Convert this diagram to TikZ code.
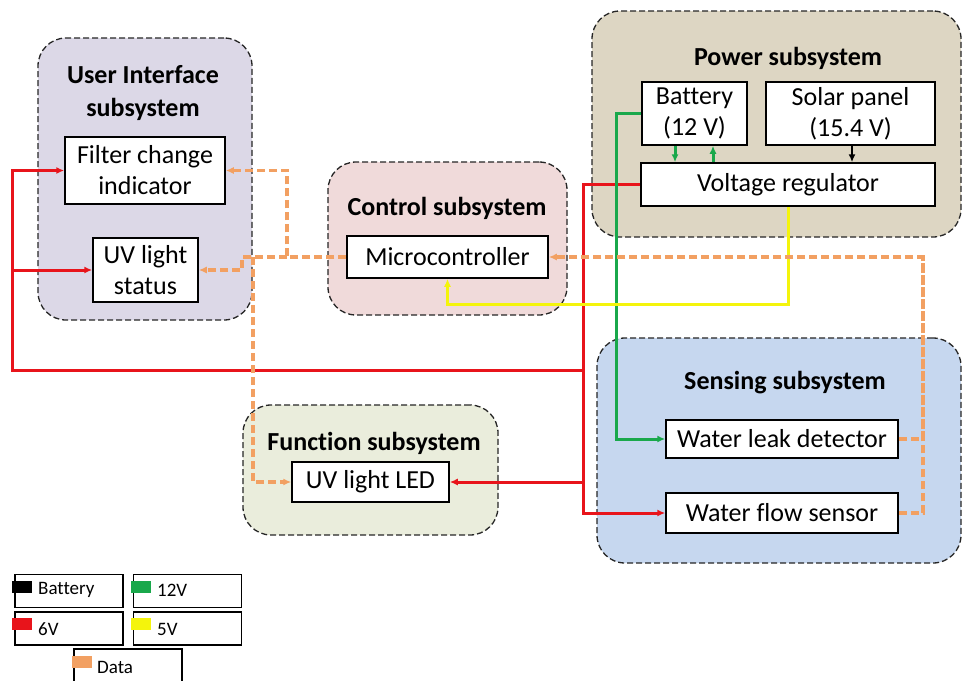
\documentclass[tikz,border=0pt]{standalone}
\usepackage{fontspec}
\setmainfont{Carlito}[RawFeature={-liga;-clig;-calt}]
\usetikzlibrary{arrows.meta}

\definecolor{uifill}{HTML}{DCD8E7}
\definecolor{ctrlfill}{HTML}{F0DADA}
\definecolor{pwrfill}{HTML}{DDD6C3}
\definecolor{sensfill}{HTML}{C6D7EF}
\definecolor{funcfill}{HTML}{EAEDDC}
\definecolor{wire6}{HTML}{E8141B}
\definecolor{wire12}{HTML}{19A84B}
\definecolor{wire5}{HTML}{F4F40C}
\definecolor{wiredata}{HTML}{F2A062}

\begin{document}
\begin{tikzpicture}[x=1pt,y=-1pt,
  group/.style={draw=black!85, line width=1.3pt, dash pattern=on 6pt off 3pt,
    rounded corners=28pt, inner sep=0pt},
  block/.style={draw=black, line width=1.5pt, fill=white, inner sep=0pt,
    align=center, font=\fontsize{26}{31}\selectfont},
  title/.style={align=center, font=\bfseries\fontsize{26}{33}\selectfont},
  tip/.style={-{Latex[length=8pt,width=7pt]}},
  v6/.style={draw=wire6, line width=3pt},
  v12/.style={draw=wire12, line width=3pt},
  v5/.style={draw=wire5, line width=3pt},
  vbat/.style={draw=black, line width=1.6pt},
  data/.style={draw=wiredata, line width=3.2pt, dash pattern=on 8pt off 4pt},
  legbox/.style={draw=black, line width=1.3pt, minimum width=108pt, minimum height=33pt, inner sep=0pt},
  legtext/.style={anchor=west, inner sep=0pt, font=\fontsize{19}{21}\selectfont},
  swatch/.style={minimum width=20pt, minimum height=12pt, inner sep=0pt}
]
\useasboundingbox (0,0) rectangle (963,680);

% subsystem groups
\node[group, fill=uifill,   minimum width=214pt, minimum height=282pt] (ui)   at (145,179) {};
\node[group, fill=ctrlfill, minimum width=239pt, minimum height=153pt] (ctrl) at (447.5,238.5) {};
\node[group, fill=pwrfill,  minimum width=369pt, minimum height=226pt] (pwr)  at (776.5,124) {};
\node[group, fill=sensfill, minimum width=364pt, minimum height=225pt] (sens) at (779,450.5) {};
\node[group, fill=funcfill, minimum width=255pt, minimum height=130pt] (func) at (370.5,470) {};

% group titles
\node[title] (uititle)   at (143,93) {User Interface\\subsystem};
\node[title] (ctrltitle) at (447,208) {Control subsystem};
\node[title] (pwrtitle)  at (788,58) {Power subsystem};
\node[title] (senstitle) at (785,383) {Sensing subsystem};
\node[title] (functitle) at (374,443) {Function subsystem};

% components
\node[block, minimum width=160pt, minimum height=67pt] (filt)  at (145,170.5) {Filter change\\indicator};
\node[block, minimum width=105pt, minimum height=64pt] (uvs)   at (145.5,270) {UV light\\status};
\node[block, minimum width=201pt, minimum height=42pt] (mcu)   at (447.5,257) {Microcontroller};
\node[block, minimum width=105pt, minimum height=63pt] (batt)  at (694.5,113.5) {Battery\\(12 V)};
\node[block, minimum width=169pt, minimum height=63pt] (solar) at (850.5,113.5) {Solar panel\\(15.4 V)};
\node[block, minimum width=294pt, minimum height=43pt] (vreg)  at (788,184.5) {Voltage regulator};
\node[block, minimum width=232pt, minimum height=38pt] (leak)  at (782,439) {Water leak detector};
\node[block, minimum width=232pt, minimum height=40pt] (flow)  at (782,513) {Water flow sensor};
\node[block, minimum width=157pt, minimum height=40pt] (led)   at (370.5,482) {UV light LED};

% junction points
\coordinate (rtop)  at (583,184.5);
\coordinate (rmid)  at (583,370);
\coordinate (rleft) at (12,370);
\coordinate (gx)    at (616,113.5);
\coordinate (yc)    at (788,304);
\coordinate (dA)    at (287,257);
\coordinate (dB)    at (242,257);
\coordinate (dC)    at (253,257);
\coordinate (dR)    at (923,257);

% 6 V distribution
\draw[v6, tip] (vreg.west) -- (rtop) |- (flow.west);
\draw[v6, tip] (rmid) -- (rleft) |- (filt.west);
\draw[v6, tip] (rleft |- uvs.west) -- (uvs.west);
\draw[v6, tip] (rtop |- led.east) -- (led.east);

% 12 V
\draw[v12, tip] (batt.west) -- (gx) |- (leak.west);
\draw[v12, tip] ([xshift=-19.5pt]batt.south) -- ([xshift=-19.5pt]batt.south |- vreg.north);
\draw[v12, tip] ([xshift=18.5pt]batt.south |- vreg.north) -- ([xshift=18.5pt]batt.south);

% solar input
\draw[vbat, tip] ([xshift=1.5pt]solar.south) -- ([xshift=1.5pt]solar.south |- vreg.north);

% 5 V
\draw[v5, tip] (vreg.south) -- (yc) -| (mcu.south);

% data links
\draw[data, tip] (mcu.west) -- (dA) |- (filt.east);
\draw[data, tip] (dA) -- (dB) |- (uvs.east);
\draw[data, tip] (dC) |- (led.west);
\draw[data, tip] (leak.east) -| (dR) -- (mcu.east);
\draw[data] (flow.east) -| (dR);

% legend
\node[legbox] (lg1) at (69,591) {};
\node[legbox] (lg2) at (187.5,591) {};
\node[legbox] (lg3) at (69,628.5) {};
\node[legbox] (lg4) at (187.5,628.5) {};
\draw[draw=black, line width=1.3pt] (74,681) |- (182,649) -- (182,681);
\node[swatch, fill=black]    (sw1) at (22,587) {};
\node[swatch, fill=wire12]   (sw2) at (140.5,587) {};
\node[swatch, fill=wire6]    (sw3) at (22,624) {};
\node[swatch, fill=wire5]    (sw4) at (140.5,624) {};
\node[swatch, fill=wiredata] (sw5) at (82,662) {};
\node[legtext] (lt1) at (38,590) {Battery};
\node[legtext] (lt2) at (157,590) {12V};
\node[legtext] (lt3) at (38,629) {6V};
\node[legtext] (lt4) at (157,629) {5V};
\node[legtext] (lt5) at (97,667) {Data};
\end{tikzpicture}
\end{document}
